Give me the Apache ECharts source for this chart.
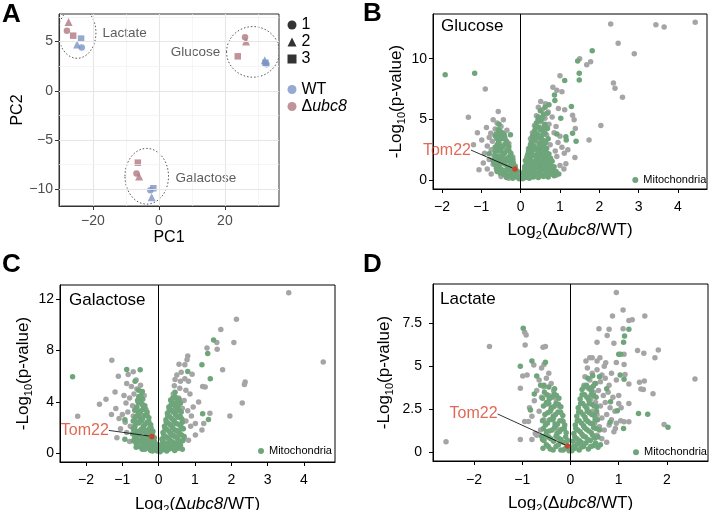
<!DOCTYPE html>
<html><head><meta charset="utf-8">
<script src="https://cdn.jsdelivr.net/npm/echarts@6/dist/echarts.min.js"></script>
<style>html,body{margin:0;padding:0;background:#fff}#c{width:711px;height:510px}</style>
</head><body><div id="c"></div>
<script>
// ---------- Panel A: PCA ----------
const pcaWT    = [[-23.4,4.4,1],[-24.8,4.7,2],[-23.6,5.3,3],[32.3,2.85,3],[32.6,2.7,1],[32.1,3.1,2],[-2.6,-10.1,1],[-2.2,-10.8,2],[-1.7,-9.9,3]];
const pcaUbc8  = [[-27.9,6.1,1],[-27.4,7.0,2],[-26.0,5.6,3],[26.1,5.45,1],[26.4,5.0,2],[23.9,3.5,3],[-6.8,-8.4,1],[-6.0,-8.7,2],[-6.4,-7.3,3]];
const pcaGroupNames = ['Lactate','Glucose','Galactose'];
const pcaGroupLabelAt = [[-17.1,5.85],[3.6,3.95],[5.0,-8.85]];
const pcaEllipses = [[-24.8,5.9,5.7,2.6],[28.5,3.95,8.0,2.57],[-3.7,-8.68,6.6,2.83]]; // cx, cy, rx, ry (data units)
const pcaXTicks = [-20,0,20];
const pcaYTicks = [-10,-5,0,5];
const pcaXGrid = [-30,-20,-10,0,10,20,30];
const pcaYGrid = [-10,-7.5,-5,-2.5,0,2.5,5,7.5];
const replicates = ['1','2','3'];

// ---------- Panel B: Glucose ----------
const glucoseOther = [
[2.29,12.85],[3.44,12.8],[3.65,12.6],[4.44,13.0],[2.48,11.27],[2.89,10.4],[1.78,9.75],[1.68,9.5],[1.50,10.0],[1.0,8.6],[2.36,8.0],[2.40,7.56],[2.59,6.82],[0.82,7.64],[0.92,7.4],[1.05,7.27],[0.51,6.47],[0.63,6.28],[0.96,5.9],[1.12,5.78],[1.32,5.34],[1.36,4.96],[1.39,4.24],[2.04,4.5],[1.74,3.3],[1.38,1.86],[1.15,1.34],[1.11,2.2],[0.92,1.94],
[0.45,6.0],[0.55,5.8],[0.7,5.6],[0.4,5.3],[0.62,5.1],[0.8,5.2],[0.5,4.8],[0.72,4.6],[0.9,4.4],[0.35,4.5],[0.58,4.3],[0.85,3.9],[1.0,3.6],[0.66,3.7],[0.3,3.9],[0.95,3.1],[0.75,2.9],[1.05,2.7],[0.88,2.4],[0.6,2.2],[1.2,2.5],[0.7,1.6],[1.0,1.2],[0.82,0.9],[0.4,3.1],[0.25,3.4],[0.2,2.6],[0.48,2.6],[0.18,1.8],[0.55,1.4],[0.3,1.0],[0.65,0.6],[0.9,0.4],[0.15,0.4],[0.38,0.3],[1.1,0.9],
[-0.90,7.5],[-1.33,5.18],[-0.57,5.64],[-0.87,4.33],[-1.06,0.85],[-0.99,3.3],[-0.76,3.86],[-0.70,4.96],[-0.44,4.96],[-0.6,4.7],[-0.5,4.4],[-0.65,4.2],[-0.55,3.9],[-0.8,3.5],[-0.72,3.2],[-0.6,3.4],[-0.85,2.8],[-0.75,2.5],[-0.92,2.2],[-0.68,2.0],[-0.8,1.7],[-0.95,1.4],[-0.7,1.3],[-0.85,0.9],[-0.6,0.8],[-0.75,0.5],[-0.5,0.3],[-0.3,0.15],[-0.45,2.8],[-0.4,3.5],[-0.35,4.1],[-0.3,3.0],[-1.2,2.9],[-1.1,3.9],[-0.2,1.9],[-0.1,0.5]
];
const glucoseMito = [
[-1.92,8.68],[-1.17,8.8],[1.82,10.65],[1.45,9.8],[1.49,8.8],[1.49,8.25],[1.12,8.2],[0.86,7.0],[0.87,6.55],[0.72,6.2],[1.29,6.05],[1.02,5.1],[1.15,3.56],[1.16,3.3],[1.32,3.86],[1.41,3.2],[0.92,3.8],[0.73,1.07],[0.85,0.66],[-0.65,3.64],[-0.26,3.72],[-0.80,2.16],[-0.55,4.6],
[-0.04,0.1],[-0.1,0.25],[-0.2,0.15],[-0.3,0.35],[-0.42,0.45],[-0.15,0.45],
[-0.08,0.7],[-0.18,0.6],[-0.28,0.85],[-0.38,0.65],[-0.5,0.9],[-0.6,0.7],[-0.14,0.95],
[-0.14,1.15],[-0.24,1.3],[-0.34,1.1],[-0.45,1.4],[-0.55,1.2],[-0.66,1.35],
[-0.2,1.7],[-0.3,1.9],[-0.4,1.6],[-0.5,1.85],[-0.6,1.65],
[-0.25,2.2],[-0.35,2.45],[-0.45,2.15],[-0.55,2.4],[-0.65,2.3],
[-0.3,2.75],[-0.4,2.95],[-0.5,2.7],[-0.6,2.9],
[-0.36,3.2],[-0.46,3.4],[-0.56,3.15],
[-0.42,3.75],[-0.52,4.0],[-0.62,3.8],
[-0.07,0.35],[-0.25,0.5],[-0.36,0.2],[-0.52,0.55],
[-0.12,0.8],[-0.22,0.98],[-0.44,0.78],[-0.32,1.0],[-0.62,1.0],
[-0.19,1.45],[-0.29,1.55],[-0.4,1.3],[-0.5,1.55],[-0.6,1.45],[-0.7,1.6],
[-0.25,1.95],[-0.35,1.75],[-0.45,2.0],[-0.55,1.95],[-0.65,2.0],
[-0.3,2.45],[-0.4,2.25],[-0.5,2.5],[-0.6,2.6],
[-0.35,3.0],[-0.45,2.75],[-0.55,3.0],[-0.65,2.7],
[-0.41,3.45],[-0.51,3.6],[-0.6,3.45],
[-0.47,3.9],[-0.57,4.15],
[0.05,0.1],[0.12,0.2],[0.22,0.15],[0.32,0.25],[0.45,0.2],[0.58,0.3],[0.7,0.25],[0.85,0.35],[0.97,0.5],
[0.06,0.6],[0.15,0.7],[0.25,0.55],[0.35,0.8],[0.48,0.65],[0.6,0.85],[0.72,0.7],[0.8,0.95],
[0.1,1.1],[0.2,1.25],[0.3,1.05],[0.42,1.3],[0.52,1.1],[0.64,1.25],[0.75,1.3],[0.16,1.45],
[0.12,1.6],[0.24,1.75],[0.35,1.55],[0.46,1.85],[0.58,1.7],[0.68,1.9],[0.8,1.55],
[0.18,2.1],[0.28,2.3],[0.38,2.05],[0.5,2.2],[0.62,2.4],[0.72,2.15],
[0.22,2.6],[0.32,2.8],[0.44,2.55],[0.55,2.75],[0.66,2.6],
[0.27,3.1],[0.37,3.3],[0.48,3.05],[0.58,3.25],[0.7,3.4],
[0.3,3.6],[0.42,3.8],[0.52,3.55],[0.62,3.85],
[0.36,4.1],[0.46,4.35],[0.56,4.05],[0.68,4.25],
[0.4,4.7],[0.52,4.9],[0.62,4.6],[0.45,5.2],[0.58,5.4],
[0.5,5.7],[0.62,6.0],[0.68,5.5],
[0.08,0.35],[0.17,0.4],[0.27,0.35],[0.38,0.5],[0.52,0.45],[0.64,0.55],[0.77,0.5],[0.9,0.7],
[0.1,0.85],[0.2,0.95],[0.3,0.8],[0.41,1.0],[0.54,0.9],[0.66,1.05],[0.85,1.1],
[0.14,1.3],[0.25,1.45],[0.36,1.3],[0.47,1.5],[0.58,1.4],[0.7,1.5],
[0.16,1.9],[0.29,2.0],[0.4,1.8],[0.52,1.95],[0.63,2.05],[0.76,1.8],
[0.2,2.35],[0.33,2.5],[0.44,2.3],[0.56,2.45],[0.67,2.2],
[0.25,2.9],[0.38,2.65],[0.49,2.85],[0.6,2.95],
[0.3,3.35],[0.42,3.5],[0.53,3.3],[0.64,3.1],
[0.34,3.85],[0.47,3.65],[0.57,3.75],
[0.38,4.4],[0.5,4.15],[0.6,4.45],
[0.44,4.95],[0.55,5.15]
];
const glucoseTom22 = [-0.145,0.9];
const glucoseXTicks = [-2,-1,0,1,2,3,4];
const glucoseYTicks = [0,5,10];

// ---------- Panel C: Galactose ----------
const galactoseOther = [
[3.58,12.52],[4.53,7.1],[2.14,10.44],[1.71,9.65],[1.60,8.63],[1.61,8.1],[2.07,8.63],[1.33,8.2],[1.76,6.5],[0.80,7.57],[0.78,7.28],[0.56,6.93],[0.72,6.9],[0.92,6.16],[2.38,5.55],[2.36,5.35],[2.30,3.9],[1.96,2.9],[1.41,3.1],[1.24,2.3],[1.01,2.3],[1.19,1.8],[1.10,3.98],[1.21,5.2],[1.28,5.15],[0.45,5.75],[0.6,5.6],[0.72,5.8],[0.82,5.6],[0.43,5.25],[0.58,5.05],[0.75,4.9],[0.86,4.6],[1.01,1.4],[0.7,1.1],[0.82,1.0],
[0.4,4.6],[0.55,4.3],[0.7,4.1],[0.35,4.0],[0.5,3.7],[0.65,3.5],[0.8,3.3],[0.9,2.9],[0.6,2.8],[0.75,2.5],[0.45,3.2],[0.3,3.5],[0.28,2.9],[0.88,2.1],[0.66,1.9],[0.5,1.5],[0.95,3.6],[0.62,6.3],[0.5,6.1],
[-2.23,2.87],[-1.29,7.25],[-1.63,3.81],[-1.45,4.2],[-1.2,4.77],[-1.18,3.47],[-1.09,2.69],[-0.955,4.5],[-0.88,5.43],[-1.11,6.0],[-0.84,6.13],[-0.70,6.34],[-0.62,5.7],[-0.75,5.2],[-0.6,5.0],[-0.68,4.6],[-0.8,4.3],[-0.55,4.4],[-0.9,3.9],[-0.72,3.7],[-0.6,3.4],[-0.85,3.2],[-1.0,3.0],[-0.7,2.9],[-0.92,2.4],[-0.78,2.1],[-1.05,1.9],[-0.88,1.6],[-0.65,1.5],[-1.15,1.2],[-0.8,0.9],[-0.5,3.0],[-0.45,3.8],[-0.5,5.3],[-0.4,4.5],[-0.35,3.4],[-1.3,3.0]
];
const galactoseMito = [
[-2.37,5.95],[-0.88,6.52],[-0.51,6.5],[-0.93,2.6],[-0.93,1.07],[1.51,8.83],[1.35,7.78],[1.42,5.8],[1.19,6.9],[0.80,6.37],[1.21,3.07],[1.37,2.61],[0.57,0.5],[-0.55,4.9],[-0.65,5.6],[-0.58,4.1],[-0.45,4.8],
[-0.04,0.15],[-0.12,0.3],[-0.22,0.2],[-0.32,0.4],[-0.45,0.3],
[-0.08,0.7],[-0.18,0.55],[-0.28,0.8],[-0.4,0.65],[-0.52,0.9],[-0.62,0.75],
[-0.12,1.2],[-0.22,1.05],[-0.32,1.35],[-0.44,1.15],[-0.55,1.4],[-0.66,1.2],
[-0.16,1.7],[-0.26,1.9],[-0.36,1.6],[-0.48,1.85],[-0.6,1.65],[-0.7,1.9],
[-0.22,2.2],[-0.32,2.4],[-0.42,2.1],[-0.54,2.35],[-0.65,2.15],
[-0.27,2.75],[-0.38,2.95],[-0.5,2.65],[-0.6,2.9],
[-0.32,3.2],[-0.44,3.4],[-0.56,3.15],[-0.66,3.35],
[-0.38,3.7],[-0.5,3.9],[-0.6,3.6],
[-0.44,4.2],[-0.54,4.4],
[-0.08,0.4],[-0.17,0.15],[-0.27,0.55],[-0.38,0.3],[-0.52,0.5],[-0.62,0.45],
[-0.12,0.9],[-0.24,0.75],[-0.34,1.0],[-0.46,0.85],[-0.58,1.05],[-0.7,0.95],
[-0.17,1.4],[-0.27,1.55],[-0.38,1.25],[-0.5,1.6],[-0.62,1.45],[-0.72,1.5],
[-0.21,1.95],[-0.31,1.75],[-0.42,1.95],[-0.54,1.7],[-0.66,1.95],
[-0.27,2.45],[-0.37,2.25],[-0.48,2.5],[-0.6,2.4],[-0.7,2.5],
[-0.32,2.95],[-0.44,2.7],[-0.55,2.95],[-0.65,2.75],
[-0.38,3.45],[-0.5,3.25],[-0.61,3.45],
[-0.44,3.75],[-0.56,3.95],[-0.49,4.5],
[0.04,0.1],[0.12,0.25],[0.22,0.15],[0.32,0.35],[0.44,0.2],[0.55,0.4],[0.65,0.3],
[0.06,0.65],[0.16,0.8],[0.26,0.6],[0.36,0.9],[0.48,0.7],[0.6,0.85],
[0.09,1.1],[0.19,1.3],[0.29,1.05],[0.4,1.35],[0.52,1.15],[0.63,1.4],
[0.12,1.6],[0.22,1.85],[0.33,1.55],[0.44,1.8],[0.56,1.65],[0.68,1.9],
[0.16,2.1],[0.26,2.35],[0.37,2.05],[0.48,2.3],[0.6,2.15],
[0.2,2.6],[0.3,2.85],[0.42,2.55],[0.53,2.8],[0.64,2.65],
[0.24,3.1],[0.34,3.35],[0.46,3.05],[0.57,3.3],
[0.28,3.6],[0.4,3.85],[0.52,3.55],[0.6,3.9],
[0.33,4.15],[0.45,4.4],[0.56,4.2],
[0.08,0.35],[0.17,0.5],[0.27,0.3],[0.38,0.55],[0.5,0.35],[0.6,0.6],
[0.11,0.95],[0.21,0.7],[0.31,0.95],[0.42,0.8],[0.54,1.0],[0.66,0.95],
[0.14,1.4],[0.24,1.2],[0.35,1.45],[0.46,1.25],[0.58,1.5],[0.7,1.3],
[0.17,1.95],[0.28,1.7],[0.39,1.95],[0.5,1.75],[0.62,2.0],
[0.21,2.4],[0.32,2.2],[0.43,2.45],[0.54,2.25],[0.65,2.4],
[0.25,2.9],[0.36,2.7],[0.48,2.95],[0.59,2.85],
[0.29,3.35],[0.4,3.2],[0.51,3.45],[0.62,3.2],
[0.34,3.75],[0.46,3.6],[0.56,3.8],
[0.39,4.3],[0.5,4.05],[0.45,4.75]
];
const galactoseTom22 = [-0.19,1.3];
const galactoseXTicks = [-2,-1,0,1,2,3,4];
const galactoseYTicks = [0,4,8,12];

// ---------- Panel D: Lactate ----------
const lactateOther = [
[-0.95,6.97],[-0.92,6.82],[-1.68,6.14],[-0.94,6.24],[-0.57,6.1],[-0.52,6.14],[-0.76,5.08],[-0.55,5.1],[-0.6,4.9],[-0.99,4.43],[-0.9,4.5],[-1.04,3.72],[-0.95,1.8],[-0.87,1.8],[-0.73,1.1],[-0.7,1.0],[-1.04,0.76],[-0.8,0.76],[-2.58,0.62],
[-0.45,4.6],[-0.5,4.3],[-0.65,4.2],[-0.4,4.0],[-0.55,3.8],[-0.7,3.6],[-0.35,3.6],[-0.45,3.3],[-0.6,3.2],[-0.3,3.1],[-0.75,3.0],[-0.5,2.8],[-0.25,2.7],[-0.4,2.5],[-0.65,2.4],[-0.2,2.3],[-0.35,2.0],[-0.55,1.9],[-0.15,1.8],[-0.8,2.1],[-0.85,2.6],[-0.62,1.3],[-0.45,0.9],[-0.28,1.4],
[0.95,9.28],[1.09,8.27],[0.87,7.92],[1.54,7.92],[1.21,7.65],[1.28,7.7],[0.59,7.17],[0.80,7.15],[1.09,7.17],[0.76,6.78],[0.55,6.39],[0.90,6.33],[1.39,5.91],[1.52,5.75],[1.82,5.94],[1.75,5.5],[1.11,5.7],[0.45,5.5],[0.61,5.5],[0.73,5.2],[0.95,5.22],[1.11,5.1],[1.13,4.52],[1.21,3.97],[1.43,4.07],[1.53,4.15],[1.46,3.68],[1.51,3.66],[1.71,3.41],[2.58,4.27],[1.21,2.85],[1.0,2.85],[1.04,1.85],[1.11,1.79],[1.21,1.79],[0.93,1.4],[1.94,1.63],
[0.35,4.9],[0.45,4.6],[0.55,4.8],[0.65,4.5],[0.4,4.2],[0.5,4.0],[0.62,4.1],[0.72,4.3],[0.8,3.9],[0.38,3.7],[0.48,3.5],[0.58,3.6],[0.68,3.3],[0.78,3.5],[0.88,3.2],[0.42,3.1],[0.52,2.9],[0.62,2.7],[0.72,2.9],[0.82,2.6],[0.92,2.4],[0.45,2.4],[0.55,2.2],[0.65,2.0],[0.75,2.2],[0.85,1.9],[0.5,1.7],[0.6,1.5],[0.7,1.3],[0.8,1.6],[0.9,1.2],[0.55,1.0],[0.65,0.8],[0.75,0.6],[0.3,4.4],[0.28,3.9],[0.85,4.6],[0.95,4.2],[0.32,5.3],[0.4,5.5],[0.55,5.3],[0.7,5.0],[1.0,3.3],[1.05,2.6],[0.95,1.7]
];
const lactateMito = [
[-0.98,7.2],[-1.04,5.0],[-0.8,5.3],[-0.52,5.23],[-0.7,4.43],[-0.83,2.46],[-0.58,0.76],[1.21,7.15],[1.12,6.76],[1.1,6.39],[1.0,5.7],[1.04,5.7],[1.03,4.49],[1.11,4.25],[0.83,2.94],[0.97,2.42],[1.41,2.27],[1.6,2.22],[1.1,1.4],[0.82,1.75],[2.02,1.47],[0.6,4.4],[0.75,3.7],[-0.62,3.9],[-0.75,3.4],
[-0.03,0.1],[-0.1,0.25],[-0.2,0.15],[-0.3,0.35],[-0.42,0.2],[-0.5,0.45],
[-0.06,0.7],[-0.15,0.6],[-0.25,0.85],[-0.35,0.65],[-0.46,0.9],[-0.55,0.7],
[-0.09,1.15],[-0.18,1.35],[-0.28,1.1],[-0.38,1.3],[-0.5,1.2],
[-0.12,1.6],[-0.22,1.85],[-0.32,1.65],[-0.43,1.9],[-0.52,1.6],
[-0.16,2.15],[-0.26,2.35],[-0.36,2.1],[-0.47,2.3],
[-0.2,2.65],[-0.3,2.85],[-0.4,2.6],[-0.5,2.9],
[-0.24,3.15],[-0.34,3.4],[-0.44,3.1],[-0.54,3.5],
[-0.07,0.4],[-0.15,0.15],[-0.25,0.45],[-0.36,0.15],[-0.46,0.35],[-0.57,0.25],
[-0.1,0.9],[-0.2,0.75],[-0.3,0.95],[-0.41,0.8],[-0.51,1.0],[-0.6,0.95],
[-0.13,1.4],[-0.23,1.2],[-0.33,1.45],[-0.44,1.25],[-0.56,1.4],
[-0.17,1.85],[-0.27,1.65],[-0.37,1.9],[-0.48,1.7],[-0.58,1.85],
[-0.21,2.35],[-0.31,2.2],[-0.42,2.4],[-0.53,2.2],
[-0.25,2.8],[-0.35,2.65],[-0.45,2.85],[-0.56,2.7],
[-0.29,3.3],[-0.39,3.2],[-0.49,3.35],[-0.58,3.15],
[-0.33,3.7],[-0.45,3.8],[-0.55,3.9],
[0.03,0.1],[0.1,0.25],[0.18,0.15],[0.27,0.35],[0.37,0.2],[0.47,0.4],[0.57,0.3],
[0.05,0.65],[0.13,0.8],[0.22,0.6],[0.31,0.9],[0.41,0.7],[0.5,0.85],
[0.07,1.1],[0.15,1.3],[0.24,1.05],[0.33,1.35],[0.43,1.15],[0.53,1.4],
[0.1,1.6],[0.18,1.85],[0.27,1.55],[0.36,1.8],[0.46,1.65],[0.56,1.9],
[0.13,2.1],[0.21,2.35],[0.3,2.05],[0.39,2.3],[0.49,2.15],
[0.16,2.6],[0.25,2.85],[0.34,2.55],[0.44,2.8],[0.54,2.65],
[0.2,3.1],[0.29,3.35],[0.38,3.05],[0.48,3.3],
[0.24,3.65],[0.33,3.9],[0.43,3.6],[0.52,4.0],
[0.06,0.35],[0.14,0.5],[0.22,0.3],[0.32,0.55],[0.42,0.35],[0.52,0.55],[0.62,0.45],
[0.09,0.9],[0.18,0.7],[0.27,0.95],[0.36,0.75],[0.46,1.0],[0.57,0.9],
[0.11,1.4],[0.2,1.2],[0.29,1.45],[0.38,1.25],[0.48,1.45],[0.6,1.3],
[0.14,1.85],[0.23,1.7],[0.32,1.9],[0.41,1.7],[0.51,1.9],
[0.17,2.35],[0.26,2.2],[0.35,2.4],[0.44,2.2],[0.54,2.4],
[0.21,2.85],[0.3,2.7],[0.39,2.85],[0.49,2.7],
[0.24,3.35],[0.34,3.2],[0.43,3.35],[0.53,3.2],
[0.28,3.8],[0.38,3.75],[0.47,3.85],[0.36,4.3],[0.46,4.45]
];
const lactateTom22 = [-0.06,0.38];
const lactateXTicks = [-2,-1,0,1,2];
const lactateYTicks = [0,2.5,5,7.5];

// ---------- styling ----------
const FONT = '"Liberation Sans", Arial, Helvetica, sans-serif';
const COL_WT = '#7b93c6', COL_UBC = '#b0777f';
const COL_GRAY = '#a5a5a5', COL_GREEN = '#6ea57a', COL_RED = '#d7301f', COL_REDTXT = '#d8432b';
const minus = v => v < 0 ? '\u2212' + Math.abs(v) : String(v);

const grids = [
  {left:59, top:14, width:220, height:192},
  {left:433, top:14, width:274, height:175},
  {left:60, top:285, width:275, height:177},
  {left:433, top:284, width:275, height:177}
].map((g,i) => Object.assign(g, {show:true, borderColor: i===0 ? '#333' : '#000', borderWidth:1, backgroundColor:'#fff', containLabel:false, outerBoundsMode:'none'}));

const richX = {
  n:{fontSize:17, fontFamily:FONT, color:'#000'},
  s:{fontSize:11, fontFamily:FONT, color:'#000', padding:[11,0,0,0]},
  i:{fontSize:17, fontFamily:FONT, color:'#000', fontStyle:'italic'}
};
const xName = '{n|Log}{s|2}{n|(\u0394}{i|ubc8}{n|/WT)}';
const yName = '{n|-Log}{s|10}{n|(p-value)}';

const axisRange = [
  {x:[-30.3,36.4], y:[-11.7,7.8]},
  {x:[-2.23,4.74], y:[-0.74,13.68]},
  {x:[-2.716,4.853], y:[-0.70,13.12]},
  {x:[-2.85,2.85], y:[-0.49,9.77]}
];
const tickSets = [
  {x:pcaXTicks, y:pcaYTicks}, {x:glucoseXTicks, y:glucoseYTicks},
  {x:galactoseXTicks, y:galactoseYTicks}, {x:lactateXTicks, y:lactateYTicks}
];

function valAxis(gi, isY, name, gap, labelMargin) {
  const isPca = gi === 0;
  const c = isPca ? '#333' : '#000';
  const r = isY ? axisRange[gi].y : axisRange[gi].x;
  const ticks = isY ? tickSets[gi].y : tickSets[gi].x;
  return {
    gridIndex: gi, type:'value', min:r[0], max:r[1],
    axisLine:{show:true, onZero:false, lineStyle:{color:c, width:1}}, splitLine:{show:false},
    axisTick:{show:true, inside:false, customValues:ticks, length:4, lineStyle:{color:c, width:1}},
    axisLabel:{customValues:ticks, formatter:minus, fontSize:14, fontFamily:FONT, color: isPca ? '#4d4d4d' : '#000', margin:labelMargin},
    name:name, nameLocation:'middle', nameGap:gap,
    nameTextStyle: isPca ? {fontSize:16, fontFamily:FONT, color:'#000'} : {fontSize:17, fontFamily:FONT, color:'#000', rich:richX}
  };
}

const xAxis = [
  valAxis(0, false, 'PC1', 24, 8),
  valAxis(1, false, xName, 30, 11),
  valAxis(2, false, xName, 31, 11),
  valAxis(3, false, xName, 31, 12)
];
const yAxis = [
  valAxis(0, true, 'PC2', 25, 6),
  valAxis(1, true, yName, 24, 6),
  valAxis(2, true, yName, 26, 6),
  valAxis(3, true, yName, 38, 11)
];

const series = [];
series.push({
  type:'scatter', name:'pcaGrid', xAxisIndex:0, yAxisIndex:0, data:[], silent:true, z:1,
  markLine:{silent:true, symbol:['none','none'], label:{show:false}, animation:false,
    data: pcaXGrid.map(v => ({xAxis:v, lineStyle:{color: v%20===0 ? '#e6e6e6' : '#f0f0f0', width: v%20===0 ? 1.1 : 0.7, type:'solid'}}))
      .concat(pcaYGrid.map(v => ({yAxis:v, lineStyle:{color: v%5===0 ? '#e6e6e6' : '#f0f0f0', width: v%5===0 ? 1.1 : 0.7, type:'solid'}})))}
});
series.push({
  type:'custom', name:'ellipses', xAxisIndex:0, yAxisIndex:0, data:pcaEllipses, silent:true, z:2, clip:true,
  encode:{x:0, y:1},
  renderItem:(params, api) => {
    const c = api.coord([api.value(0), api.value(1)]);
    const s = api.size([api.value(2), api.value(3)]);
    return {type:'ellipse', shape:{cx:c[0], cy:c[1], rx:s[0], ry:s[1]},
      style:{fill:'none', stroke:'#555', lineWidth:1, lineDash:[1.5,2]}};
  }
});
series.push({
  type:'scatter', name:'groupLabels', xAxisIndex:0, yAxisIndex:0, silent:true, z:3, symbolSize:0,
  data: pcaGroupNames.map((n,i) => ({name:n, value:pcaGroupLabelAt[i]})),
  label:{show:true, position:'right', distance:0, formatter:'{b}', fontSize:13.5, fontFamily:FONT, color:'#333'}
});
const shapes = ['circle','triangle','rect'];
const sizes = [6.5, 8, 6.5];
replicates.forEach((r, k) => {
  const rep = k+1;
  const d = pcaWT.filter(p => p[2]===rep).map(p => ({value:[p[0],p[1]], itemStyle:{color:COL_WT}}))
    .concat(pcaUbc8.filter(p => p[2]===rep).map(p => ({value:[p[0],p[1]], itemStyle:{color:COL_UBC}})));
  series.push({type:'scatter', name:r, xAxisIndex:0, yAxisIndex:0, symbol:shapes[k], symbolSize:sizes[k], data:d, z:4});
});
series.push({type:'scatter', name:'WT', xAxisIndex:0, yAxisIndex:0, data:[], itemStyle:{color:COL_WT}});
series.push({type:'scatter', name:'\u0394ubc8', xAxisIndex:0, yAxisIndex:0, data:[], itemStyle:{color:COL_UBC}});

const volc = [
  {gi:1, other:glucoseOther, mito:glucoseMito, tom:glucoseTom22, dx:-68, dy:-19},
  {gi:2, other:galactoseOther, mito:galactoseMito, tom:galactoseTom22, dx:-67, dy:-6},
  {gi:3, other:lactateOther, mito:lactateMito, tom:lactateTom22, dx:-94, dy:-32}
];
volc.forEach(v => {
  series.push({type:'scatter', name:'Other', xAxisIndex:v.gi, yAxisIndex:v.gi, data:v.other, symbolSize:5.5,
    itemStyle:{color:COL_GRAY, opacity:1}, z:2, silent:true,
    markLine:{silent:true, symbol:['none','none'], label:{show:false}, animation:false,
      lineStyle:{color:'#000', width:1, type:'solid'}, data:[{xAxis:0}]}});
  series.push({type:'scatter', name:'Mitochondria', xAxisIndex:v.gi, yAxisIndex:v.gi, data:v.mito, symbolSize:5.5,
    itemStyle:{color:COL_GREEN, opacity:1}, z:3, silent:true});
  series.push({type:'scatter', name:'Tom22', xAxisIndex:v.gi, yAxisIndex:v.gi, data:[{name:'Tom22', value:v.tom}], symbolSize:5.5,
    itemStyle:{color:COL_RED}, z:5, silent:true,
    label:{show:true, position:'inside', formatter:'Tom22', fontSize:16, fontFamily:FONT, color:COL_REDTXT},
    labelLayout:{dx:v.dx, dy:v.dy},
    labelLine:{show:true, lineStyle:{color:'#000', width:0.8}}});
});

const legendBase = {orient:'vertical', selectedMode:false, padding:0, itemGap:0};
const legend = [
  Object.assign({}, legendBase, {left:287.5, top:16.5, itemWidth:9, itemHeight:9,
    textStyle:{fontSize:16, fontFamily:FONT, color:'#000', lineHeight:17},
    data:[{name:'1', icon:'circle', itemStyle:{color:'#000'}},{name:'2', icon:'triangle', itemStyle:{color:'#000'}},{name:'3', icon:'rect', itemStyle:{color:'#000'}}]}),
  Object.assign({}, legendBase, {left:287.5, top:81, itemWidth:9, itemHeight:9,
    textStyle:{fontSize:16, fontFamily:FONT, color:'#000', lineHeight:17,
      rich:{n:{fontSize:16, fontFamily:FONT, color:'#000'}, i:{fontSize:16, fontFamily:FONT, color:'#000', fontStyle:'italic'}}},
    formatter: n => n==='WT' ? '{n|WT}' : '{n|\u0394}{i|ubc8}',
    data:[{name:'WT', icon:'circle'},{name:'\u0394ubc8', icon:'circle'}]})
];
[[632.3,174],[258,445],[633,446.3]].forEach(p => {
  legend.push(Object.assign({}, legendBase, {left:p[0], top:p[1], itemWidth:6, itemHeight:6,
    textStyle:{fontSize:11, fontFamily:FONT, color:'#000', lineHeight:12},
    data:[{name:'Mitochondria', icon:'circle'}]}));
});

const letter = (t, x, y) => ({text:t, left:x, top:y, padding:0, textStyle:{fontSize:26, fontWeight:'bold', fontFamily:FONT, color:'#000'}});
const ptitle = (t, x, y) => ({text:t, left:x, top:y, padding:0, textStyle:{fontSize:17, fontWeight:'normal', fontFamily:FONT, color:'#000'}});
const title = [letter('A',2,2), letter('B',363,1), letter('C',2,252), letter('D',363,252),
  ptitle('Glucose',441,18), ptitle('Galactose',69,292), ptitle('Lactate',440,291)];

const chart = echarts.init(document.getElementById('c'), null, {renderer:'canvas'});
chart.setOption({animation:false, backgroundColor:'#fff', title, legend, grid:grids, xAxis, yAxis, series});
</script></body></html>
